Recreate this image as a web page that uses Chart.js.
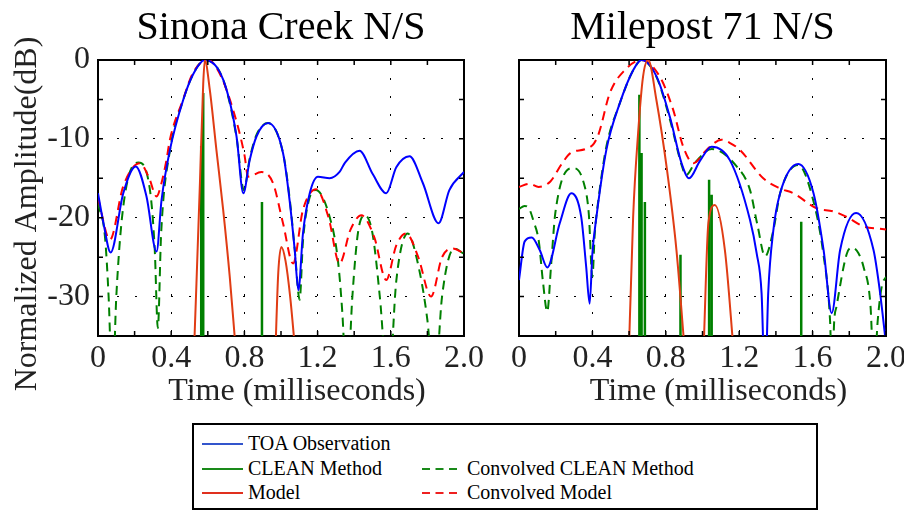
<!DOCTYPE html>
<html>
<head>
<meta charset="utf-8">
<script src="https://cdn.jsdelivr.net/npm/chart.js@4.4.1/dist/chart.umd.min.js"></script>
<style>
html, body { margin: 0; padding: 0; overflow: hidden; background: #fff; }
body { width: 904px; height: 513px; position: relative; font-family: "Liberation Serif", "Times New Roman", serif; }
canvas { position: absolute; top: 0; }
#sinona { left: 0; }
#milepost { left: 490px; }
#legend { position: absolute; left: 192px; top: 423px; width: 622px; height: 83px; border: 2px solid #000; background: #fff; }
#legend svg { position: absolute; left: 0; top: 0; }
#legend span { position: absolute; font-size: 20px; line-height: 20px; white-space: nowrap; color: #000; font-family: "Liberation Serif", serif; }
</style>
</head>
<body>
<canvas id="sinona" width="490" height="420"></canvas>
<canvas id="milepost" width="420" height="420"></canvas>
<div id="legend"></div>
<script>
// tick labels
var timeLabels = ['0', '0.4', '0.8', '1.2', '1.6', '2.0'];
var dbLabels = ['0', '-10', '-20', '-30'];
var seriesNames = ['TOA Observation', 'CLEAN Method', 'Model', 'Convolved CLEAN Method', 'Convolved Model'];

// Sinona Creek N/S
var sinonaToaT = [0, 0.03, 0.069, 0.138, 0.206, 0.265, 0.32, 0.347, 0.393, 0.465, 0.52, 0.584, 0.684, 0.757, 0.794, 0.829, 0.866, 0.929, 1.011, 1.047, 1.075, 1.095, 1.12, 1.157, 1.202, 1.266, 1.32, 1.35, 1.429, 1.502, 1.575, 1.63, 1.702, 1.775, 1.861, 1.92, 2.0];
var sinonaToaDb = [-16.9, -20.7, -24.4, -16.9, -13.5, -17.3, -24.3, -17.8, -11.4, -5.1, -1.8, 0, -2.5, -9.7, -16.9, -12.7, -9.7, -8.0, -11.8, -17.8, -24.1, -29.2, -22.0, -16.9, -14.8, -15.0, -14.2, -13.0, -11.5, -14.5, -16.9, -13.6, -12.2, -15.6, -20.7, -16.5, -14.2];

var sinonaConvCleanT = [0, 0.038, 0.058, 0.079, 0.1, 0.138, 0.22, 0.284, 0.31, 0.327, 0.345, 0.393, 0.465, 0.52, 0.584, 0.684, 0.757, 0.797, 0.829, 0.866, 0.929, 1.011, 1.047, 1.075, 1.102, 1.12, 1.15, 1.19, 1.266, 1.311, 1.335, 1.36, 1.39, 1.42, 1.457, 1.5, 1.54, 1.587, 1.63, 1.693, 1.74, 1.8, 1.838, 1.88, 1.947, 2.0];
var sinonaConvCleanDb = [-18.2, -22.4, -30, -42, -30, -18.6, -13.0, -16.5, -24, -34, -22, -11.5, -5.1, -1.8, 0, -2.5, -9.8, -16.5, -12.5, -9.5, -8.0, -11.8, -17.5, -24, -30.4, -23, -18, -16.5, -19.9, -25.4, -32, -42, -30, -22, -19.7, -22, -30, -42, -28, -22, -25, -33, -42, -30, -23.9, -24.6];

var sinonaConvModelT = [0, 0.065, 0.138, 0.229, 0.28, 0.32, 0.347, 0.374, 0.393, 0.465, 0.52, 0.6, 0.66, 0.738, 0.8, 0.82, 0.893, 0.956, 1.011, 1.066, 1.12, 1.193, 1.26, 1.32, 1.38, 1.439, 1.51, 1.575, 1.63, 1.684, 1.75, 1.82, 1.88, 1.938, 2.0];
var sinonaConvModelDb = [-17.5, -22.8, -16.0, -13.1, -15.0, -17.3, -15.6, -12.7, -10.1, -5.0, -1.6, 0, -1.5, -6.3, -12.0, -14.8, -14.2, -15.6, -20.7, -25.8, -19.0, -16.4, -20.0, -25.8, -21.5, -19.7, -22.5, -27.9, -23.5, -22.0, -25.0, -30.0, -25.0, -23.9, -24.5];

var sinonaModelT = [0.52, 0.538, 0.557, 0.575, 0.584, 0.611, 0.647, 0.684, 0.72, 0.75, 0.85, 0.968, 0.985, 1.002, 1.025, 1.05, 1.078];
var sinonaModelDb = [-40, -28.3, -15.6, -3, 0, -3.8, -11.4, -19, -27.5, -36, null, -38, -27, -23.7, -25.5, -30, -37];

var sinonaCleanT = [0.564, 0.575, 0.896];
var sinonaCleanDb = [-10.9, -4.2, -18.0];

// Milepost 71 N/S
var mileToaT = [0, 0.031, 0.069, 0.113, 0.154, 0.222, 0.285, 0.339, 0.366, 0.385, 0.4, 0.422, 0.476, 0.549, 0.622, 0.668, 0.75, 0.822, 0.886, 0.927, 0.986, 1.05, 1.149, 1.259, 1.295, 1.322, 1.341, 1.358, 1.386, 1.423, 1.522, 1.605, 1.66, 1.704, 1.75, 1.837, 1.932, 1.966, 2.0];
var mileToaDb = [-27.9, -23.0, -22.5, -24.1, -26.3, -20.7, -16.9, -19.9, -26.2, -30.9, -24.5, -19.9, -11.4, -5.5, -1.3, 0, -2.1, -7.2, -13.1, -15.0, -12.8, -11.0, -12.7, -20.3, -24.5, -29.6, -42, -29.6, -21.6, -16.9, -13.2, -16.9, -24.1, -32.1, -24.1, -19.4, -24.1, -29.2, -36];

var mileConvCleanT = [0, 0.03, 0.054, 0.08, 0.108, 0.13, 0.154, 0.175, 0.198, 0.298, 0.353, 0.38, 0.4, 0.413, 0.435, 0.476, 0.549, 0.622, 0.668, 0.75, 0.822, 0.886, 0.91, 0.96, 1.05, 1.186, 1.259, 1.3, 1.341, 1.386, 1.423, 1.522, 1.6, 1.658, 1.695, 1.706, 1.718, 1.73, 1.786, 1.815, 1.85, 1.877, 1.915, 1.935, 1.955, 1.977, 2.0];
var mileConvCleanDb = [-18.9, -18.5, -18.8, -20.5, -23.0, -28.0, -31.9, -26.0, -19.4, -13.7, -15.6, -19.4, -27.5, -22.0, -17.3, -11.0, -5.5, -1.3, 0, -2.2, -7.5, -13.3, -14.6, -13.0, -11.3, -13.5, -16.5, -21.0, -24.9, -21.6, -16.9, -13.3, -17.5, -24.5, -33, -40, -33, -31.3, -24.6, -23.8, -24.5, -26.2, -31, -40, -33, -28.7, -27.5];

var mileConvModelT = [0, 0.058, 0.107, 0.171, 0.235, 0.28, 0.362, 0.408, 0.435, 0.495, 0.576, 0.668, 0.767, 0.84, 0.895, 0.95, 1.022, 1.104, 1.148, 1.204, 1.331, 1.423, 1.495, 1.622, 1.713, 1.786, 1.877, 1.968, 2.0];
var mileConvModelDb = [-16.1, -15.7, -16.1, -15.4, -13.1, -11.8, -11.3, -10.6, -9.3, -4.2, -1.3, 0, -2.1, -6.3, -11.0, -13.1, -11.4, -10.1, -10.5, -11.4, -15.0, -16.3, -16.9, -18.8, -19.2, -19.9, -21.1, -21.4, -21.5];

var mileModelT = [0.595, 0.622, 0.649, 0.676, 0.704, 0.749, 0.804, 0.858, 0.9, 0.95, 1.007, 1.032, 1.067, 1.122, 1.17];
var mileModelDb = [-40, -19.9, -9.3, -2.1, 0, -5.1, -13.5, -24.1, -36, null, -36, -20.7, -18.4, -24.1, -37];

var mileCleanT = [0.656, 0.668, 0.686, 0.88, 1.036, 1.05, 1.538];
var mileCleanDb = [-4.4, -11.8, -18.0, -24.7, -15.2, -17.1, -20.5];

var FONT = "'Liberation Serif', 'Times New Roman', serif";
Chart.defaults.font.family = FONT;
Chart.defaults.color = '#000';

function pts(ts, dbs) {
    return ts.map(function(t, i) { return { x: t, y: dbs[i] }; });
}

// vertical spikes from below the axis up to each value
function spikes(ts, dbs) {
    var out = [];
    ts.forEach(function(t, i) {
	out.push({ x: t, y: -36 });
	out.push({ x: t, y: dbs[i] });
	out.push({ x: t, y: null });
    });
    return out;
}

// small tick marks pointing into the box, on all four sides
var innerTicks = {
    id: 'innerTicks',
    afterDatasetsDraw: function(chart) {
	var ctx = chart.ctx, a = chart.chartArea, x = chart.scales.x, y = chart.scales.y;
	ctx.save();
	ctx.strokeStyle = '#000';
	ctx.lineWidth = 1.5;
	ctx.beginPath();
	x.ticks.forEach(function(t) {
	    var px = x.getPixelForValue(t.value);
	    ctx.moveTo(px, a.bottom); ctx.lineTo(px, a.bottom - 5);
	    ctx.moveTo(px, a.top); ctx.lineTo(px, a.top + 5);
	});
	y.ticks.forEach(function(t) {
	    var py = y.getPixelForValue(t.value);
	    ctx.moveTo(a.left, py); ctx.lineTo(a.left + 5, py);
	    ctx.moveTo(a.right, py); ctx.lineTo(a.right - 5, py);
	});
	ctx.stroke();
	ctx.restore();
    }
};

function makePanel(id, title, s, dims) {
    var datasets = [
	{ label: seriesNames[2], data: pts(s.modelT, s.modelDb), borderColor: '#e03c14', borderWidth: 2, tension: 0.4, cubicInterpolationMode: 'monotone', spanGaps: false },
	{ label: seriesNames[1], data: spikes(s.cleanT, s.cleanDb), borderColor: '#008000', borderWidth: 2.5, tension: 0, spanGaps: false },
	{ label: seriesNames[0], data: pts(s.toaT, s.toaDb), borderColor: '#0000ff', borderWidth: 2, cubicInterpolationMode: 'monotone' },
	{ label: seriesNames[4], data: pts(s.convModelT, s.convModelDb), borderColor: '#ff0000', borderWidth: 2, borderDash: [9, 6], cubicInterpolationMode: 'monotone' },
	{ label: seriesNames[3], data: pts(s.convCleanT, s.convCleanDb), borderColor: '#008000', borderWidth: 2, borderDash: [9, 6], cubicInterpolationMode: 'monotone' }
    ];
    datasets.forEach(function(d) { d.pointRadius = 0; d.fill = false; });

    var dotted = [2, 16];

    return new Chart(document.getElementById(id).getContext('2d'), {
	type: 'line',
	data: { datasets: datasets },
	plugins: [innerTicks],
	options: {
	    responsive: false,
	    animation: false,
	    layout: { padding: 0 },
	    plugins: { legend: { display: false }, tooltip: { enabled: false } },
	    scales: {
		x: {
		    type: 'linear', position: 'bottom', min: 0, max: 2, offset: false,
		    afterFit: function(sc) { sc.height = dims.bottom; },
		    ticks: {
			stepSize: 0.2, autoSkip: false, maxRotation: 0, padding: 3,
			font: { size: 32 }, color: '#222',
			callback: function(v) {
			    var i = Math.round(v / 0.2);
			    return i % 2 === 0 ? timeLabels[i / 2] : '';
			}
		    },
		    grid: {
			drawTicks: false, lineWidth: 1,
			color: function(c) {
			    var i = Math.round(c.tick.value / 0.2);
			    return (i % 2 === 0 && i > 0 && i < 10) ? '#000' : 'rgba(0,0,0,0)';
			}
		    },
		    border: { color: '#000', width: 2, dash: dotted },
		    title: { display: true, text: '    Time (milliseconds)', font: { size: 32 }, color: '#222', padding: { top: 0, bottom: 9 } }
		},
		xTop: {
		    type: 'linear', position: 'top', min: 0, max: 2,
		    afterFit: function(sc) { sc.height = dims.top; },
		    ticks: { display: false },
		    grid: { display: false },
		    border: { color: '#000', width: 2 },
		    title: { display: true, text: title, font: { size: 40 }, color: '#000', padding: { top: 4, bottom: 0 } }
		},
		y: {
		    type: 'linear', position: 'left', min: -35, max: 0,
		    afterFit: function(sc) { sc.width = dims.left; },
		    ticks: {
			display: dims.showY, stepSize: 5, padding: 8, autoSkip: false,
			font: { size: 32 }, color: '#222',
			callback: function(v) {
			    var k = Math.round(-v / 5);
			    return k % 2 === 0 ? dbLabels[k / 2] : '';
			}
		    },
		    grid: {
			drawTicks: false, lineWidth: 1,
			color: function(c) {
			    var k = Math.round(-c.tick.value / 5);
			    return (k % 2 === 0 && k > 0 && k < 7) ? '#000' : 'rgba(0,0,0,0)';
			}
		    },
		    border: { color: '#000', width: 2, dash: dotted },
		    title: { display: dims.showY, text: 'Normalized Amplitude(dB)    ', font: { size: 32 }, color: '#222', padding: { top: 8, bottom: 0 } }
		},
		yRight: {
		    type: 'linear', position: 'right', min: -35, max: 0,
		    afterFit: function(sc) { sc.width = dims.right; },
		    ticks: { display: false },
		    grid: { display: false },
		    border: { color: '#000', width: 2 }
		}
	    }
	}
    });
}

window.sinona = makePanel('sinona', 'Sinona Creek N/S', {
    toaT: sinonaToaT, toaDb: sinonaToaDb,
    convCleanT: sinonaConvCleanT, convCleanDb: sinonaConvCleanDb,
    convModelT: sinonaConvModelT, convModelDb: sinonaConvModelDb,
    modelT: sinonaModelT, modelDb: sinonaModelDb,
    cleanT: sinonaCleanT, cleanDb: sinonaCleanDb
}, { left: 98, right: 26, top: 60, bottom: 84, showY: true });

window.milepost = makePanel('milepost', 'Milepost 71 N/S', {
    toaT: mileToaT, toaDb: mileToaDb,
    convCleanT: mileConvCleanT, convCleanDb: mileConvCleanDb,
    convModelT: mileConvModelT, convModelDb: mileConvModelDb,
    modelT: mileModelT, modelDb: mileModelDb,
    cleanT: mileCleanT, cleanDb: mileCleanDb
}, { left: 29, right: 24, top: 60, bottom: 84, showY: false });

// legend box: two columns, solid series on the left, convolved ones on the right
(function() {
    var legend = document.getElementById('legend');
    var items = [
	{ name: seriesNames[0], color: '#3355cc', dash: '', col: 0, row: 0 },
	{ name: seriesNames[1], color: '#1a8a1a', dash: '', col: 0, row: 1 },
	{ name: seriesNames[2], color: '#e0301e', dash: '', col: 0, row: 2 },
	{ name: seriesNames[3], color: '#1a8a1a', dash: '8 5.5', col: 1, row: 1 },
	{ name: seriesNames[4], color: '#ee2020', dash: '8 5.5', col: 1, row: 2 }
    ];
    var rowLine = [19, 44, 68], rowText = [8, 33, 57];
    var col = [{ x1: 8, x2: 49, tx: 54 }, { x1: 228, x2: 263, tx: 273 }];
    var svg = '<svg width="622" height="83">';
    var html = '';
    items.forEach(function(it) {
	var c = col[it.col];
	svg += '<line x1="' + c.x1 + '" y1="' + rowLine[it.row] + '" x2="' + c.x2 + '" y2="' + rowLine[it.row] +
	    '" stroke="' + it.color + '" stroke-width="2"' + (it.dash ? ' stroke-dasharray="' + it.dash + '"' : '') + '/>';
	html += '<span style="left:' + c.tx + 'px;top:' + rowText[it.row] + 'px">' + it.name + '</span>';
    });
    svg += '</svg>';
    legend.innerHTML = svg + html;
})();
</script>
</body>
</html>
